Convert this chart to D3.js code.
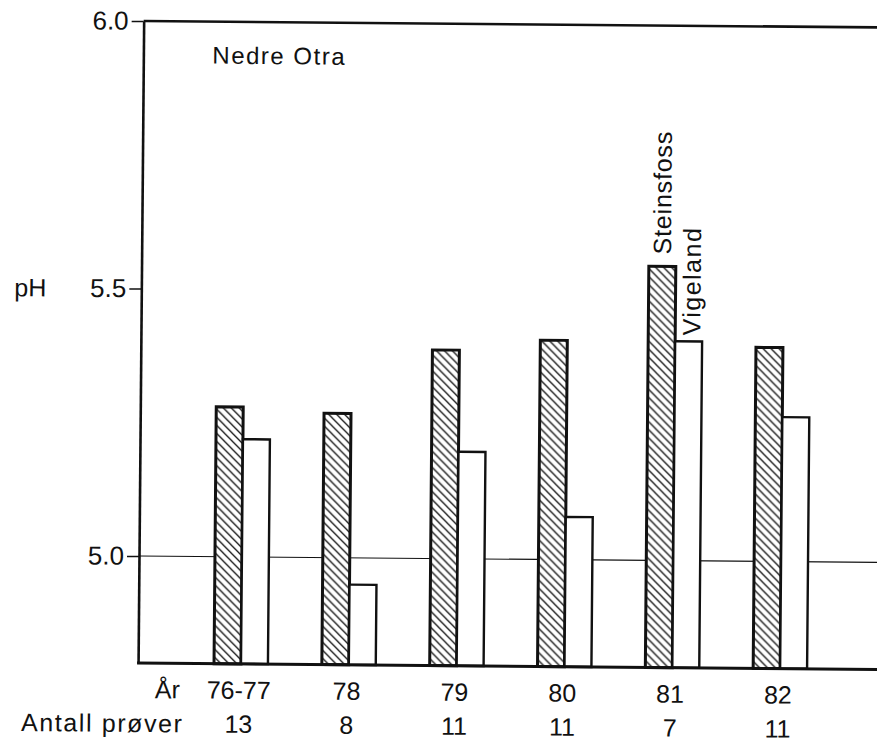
<!DOCTYPE html>
<html>
<head>
<meta charset="utf-8">
<script src="https://cdn.jsdelivr.net/npm/d3@7/dist/d3.min.js"></script>
<style>
  html, body { margin: 0; padding: 0; background: #fff; }
  text { font-family: "Liberation Sans", Arial, sans-serif; fill: #111; }
</style>
</head>
<body>
<svg id="chart" width="877" height="749"></svg>
<script>
const years = ["76-77", "78", "79", "80", "81", "82"];
const samples = ["13", "8", "11", "11", "7", "11"];
const steinsfoss = [5.28, 5.27, 5.39, 5.41, 5.55, 5.40];
const vigeland = [5.22, 4.95, 5.20, 5.08, 5.41, 5.27];
const series = ["Steinsfoss", "Vigeland"];
const yTicks = [5.0, 5.5, 6.0];

const svg = d3.select("#chart");
const W = 877;
const axisX = 139;

const defs = svg.append("defs");
const pat = defs.append("pattern")
  .attr("id", "hatch").attr("patternUnits", "userSpaceOnUse")
  .attr("width", 8).attr("height", 8);
pat.append("rect").attr("width", 8).attr("height", 8).attr("fill", "#fff");
pat.append("path")
  .attr("d", "M0,0 L8,8 M-4,4 L4,12 M4,-4 L12,4")
  .attr("stroke", "#111").attr("stroke-width", 1.3);

const y = d3.scaleLinear().domain([4.8, 6.0]).range([663, 21]);
const x0 = d3.scaleBand().domain(years).range([188, 835])
  .paddingInner(0.5).paddingOuter(0.25);
const x1 = d3.scaleBand().domain(series).range([0, x0.bandwidth()]);

const g = svg.append("g")
  .attr("transform", `rotate(0.5, ${axisX}, ${y(5.0)})`);

// top frame line at 6.0 and gridline at 5.0
g.append("line").attr("x1", axisX).attr("x2", W + 10)
  .attr("y1", y(6.0)).attr("y2", y(6.0))
  .attr("stroke", "#111").attr("stroke-width", 2.6);
g.append("line").attr("x1", axisX).attr("x2", W + 10)
  .attr("y1", y(5.0)).attr("y2", y(5.0))
  .attr("stroke", "#111").attr("stroke-width", 1.2);

// y axis
const yAxis = g.append("g").attr("transform", `translate(${axisX},0)`)
  .call(d3.axisLeft(y).tickValues(yTicks).tickFormat(d3.format(".1f"))
    .tickSize(12).tickSizeOuter(0).tickPadding(3));
yAxis.select(".domain").attr("stroke", "#111").attr("stroke-width", 2.6);
yAxis.selectAll(".tick line").attr("stroke", "#111").attr("stroke-width", 1.5);
yAxis.selectAll(".tick text")
  .style("font-family", "'Liberation Sans', Arial, sans-serif")
  .style("font-size", "26px").attr("fill", "#111");

g.append("text").attr("x", 44).attr("y", y(5.5)).attr("dy", "0.35em")
  .attr("text-anchor", "end").style("font-size", "25px").text("pH");

g.append("text").attr("x", 208).attr("y", 63)
  .style("font-size", "24px").style("letter-spacing", "1.5px").text("Nedre Otra");

// bars
const rows = years.map((yr, i) => ({ yr, values: [steinsfoss[i], vigeland[i]] }));
const grp = g.selectAll(".grp").data(rows).enter().append("g")
  .attr("transform", d => `translate(${x0(d.yr)},0)`);
grp.selectAll("rect").data(d => d.values.map((v, j) => ({ s: series[j], v })))
  .enter().append("rect")
  .attr("x", d => x1(d.s))
  .attr("width", x1.bandwidth())
  .attr("y", d => y(d.v))
  .attr("height", d => y(4.8) - y(d.v))
  .attr("fill", d => d.s === "Steinsfoss" ? "url(#hatch)" : "#fff")
  .attr("stroke", "#111")
  .attr("stroke-width", d => d.s === "Steinsfoss" ? 3 : 2.4);

// series labels above year 81 bars
const i81 = years.indexOf("81");
[["Steinsfoss", steinsfoss[i81], 5, 12], ["Vigeland", vigeland[i81], 2, 6]].forEach(([name, v, dx, dy]) => {
  const bx = x0("81") + x1(name) + x1.bandwidth() - dx;
  const by = y(v) - dy;
  g.append("text")
    .attr("transform", `translate(${bx},${by}) rotate(-90)`)
    .attr("text-anchor", "start")
    .style("font-size", "25px")
    .style("letter-spacing", name === "Vigeland" ? "1.5px" : "0.8px")
    .text(name);
});

// baseline
g.append("line").attr("x1", axisX - 1).attr("x2", W + 10)
  .attr("y1", y(4.8)).attr("y2", y(4.8))
  .attr("stroke", "#111").attr("stroke-width", 3);

// bottom rows
g.append("text").attr("x", 181).attr("y", 698).attr("text-anchor", "end")
  .style("font-size", "25px").text("År");
g.append("text").attr("x", 185).attr("y", 732).attr("text-anchor", "end")
  .style("font-size", "25px").style("letter-spacing", "1.6px").text("Antall prøver");
g.selectAll(".yr").data(years).enter().append("text")
  .attr("x", d => x0(d) + x0.bandwidth() / 2 - 2)
  .attr("y", 698).attr("text-anchor", "middle")
  .style("font-size", "25px").text(d => d);
g.selectAll(".ns").data(samples).enter().append("text")
  .attr("x", (d, i) => x0(years[i]) + x0.bandwidth() / 2 - 2)
  .attr("y", 732).attr("text-anchor", "middle")
  .style("font-size", "25px").text(d => d);
</script>
</body>
</html>
